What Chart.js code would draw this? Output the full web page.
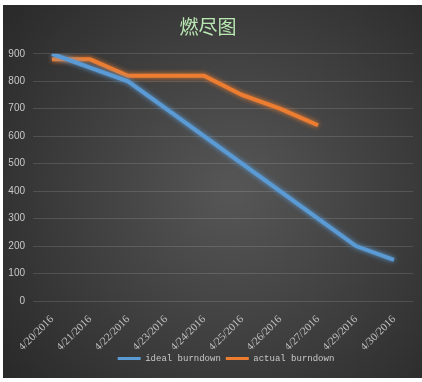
<!DOCTYPE html>
<html>
<head>
<meta charset="utf-8">
<script src="https://cdn.jsdelivr.net/npm/chart.js@4"></script>
<style>
  html, body { margin: 0; padding: 0; background: #ffffff; }
  #wrap { position: absolute; left: 3px; top: 5px; width: 419px; height: 373px; }
</style>
</head>
<body>
<div id="wrap"><canvas id="burn" width="419" height="373"></canvas></div>
<script>
const dates = ['4/20/2016', '4/21/2016', '4/22/2016', '4/23/2016', '4/24/2016', '4/25/2016', '4/26/2016', '4/27/2016', '4/29/2016', '4/30/2016'];
const ideal = [900, 850, 800, 700, 600, 500, 400, 300, 200, 150];
const actual = [880, 880, 820, 820, 820, 750, 700, 640, null, null];

// dark radial background like the excel style
const bgPlugin = {
  id: 'bg',
  beforeDraw(chart) {
    const c = chart.ctx;
    const w = chart.width, h = chart.height;
    const g = c.createRadialGradient(w * 0.55, h * 0.5, 10, w * 0.55, h * 0.5, w * 0.75);
    g.addColorStop(0, '#555555');
    g.addColorStop(1, '#262626');
    c.save();
    c.fillStyle = g;
    c.fillRect(0, 0, w, h);
    c.restore();
  },
  afterLayout(chart) {
    // legend sits a bit right of centre in the original
    chart.legend.left += 18;
    chart.legend.right += 18;
  }
};

// soft glow round the lines
const glowPlugin = {
  id: 'glow',
  beforeDatasetDraw(chart, args) {
    const c = chart.ctx;
    c.save();
    c.shadowColor = args.meta.dataset.options.borderColor;
    c.shadowBlur = 5;
  },
  afterDatasetDraw(chart) {
    chart.ctx.restore();
  }
};

const ctx = document.getElementById('burn').getContext('2d');
const burnChart = new Chart(ctx, {
  type: 'line',
  data: {
    labels: dates,
    datasets: [{
      label: 'ideal burndown',
      data: ideal,
      borderColor: '#5b9bd5',
      backgroundColor: '#5b9bd5',
      borderWidth: 4,
      pointRadius: 0,
      tension: 0
    }, {
      label: 'actual burndown',
      data: actual,
      borderColor: '#ed7d31',
      backgroundColor: '#ed7d31',
      borderWidth: 4,
      pointRadius: 0,
      tension: 0
    }]
  },
  options: {
    responsive: false,
    animation: false,
    layout: { padding: { left: 0, right: 9, top: 0, bottom: 5 } },
    plugins: {
      title: {
        display: true,
        text: '燃尽图',
        color: '#b9e8b3',
        font: { family: 'Noto Sans CJK SC', size: 19, weight: 'normal' },
        padding: { top: 10, bottom: 16 }
      },
      legend: {
        position: 'bottom',
        labels: {
          color: '#c8c8c8',
          font: { family: 'Liberation Mono', size: 9 },
          boxWidth: 23,
          boxHeight: 3,
          padding: 5,
          generateLabels(chart) {
            const items = Chart.defaults.plugins.legend.labels.generateLabels(chart);
            items.forEach(it => { it.lineWidth = 0; });
            return items;
          }
        }
      },
      tooltip: { enabled: false }
    },
    scales: {
      x: {
        offset: true,
        afterFit(scale) { scale.height = 48; },
        grid: { display: false },
        border: { display: false },
        ticks: {
          color: '#c0c0c0',
          font: { family: 'Liberation Serif', size: 11 },
          minRotation: 45,
          maxRotation: 45,
          autoSkip: false,
          padding: 4
        }
      },
      y: {
        min: 0,
        max: 900,
        afterFit(scale) { scale.width = 30; },
        grid: { color: 'rgba(255,255,255,0.13)', drawTicks: false },
        border: { display: false },
        ticks: {
          stepSize: 100,
          color: '#c8c8c8',
          font: { family: 'Liberation Sans', size: 10 },
          padding: 8
        }
      }
    }
  },
  plugins: [bgPlugin, glowPlugin]
});
</script>
</body>
</html>
